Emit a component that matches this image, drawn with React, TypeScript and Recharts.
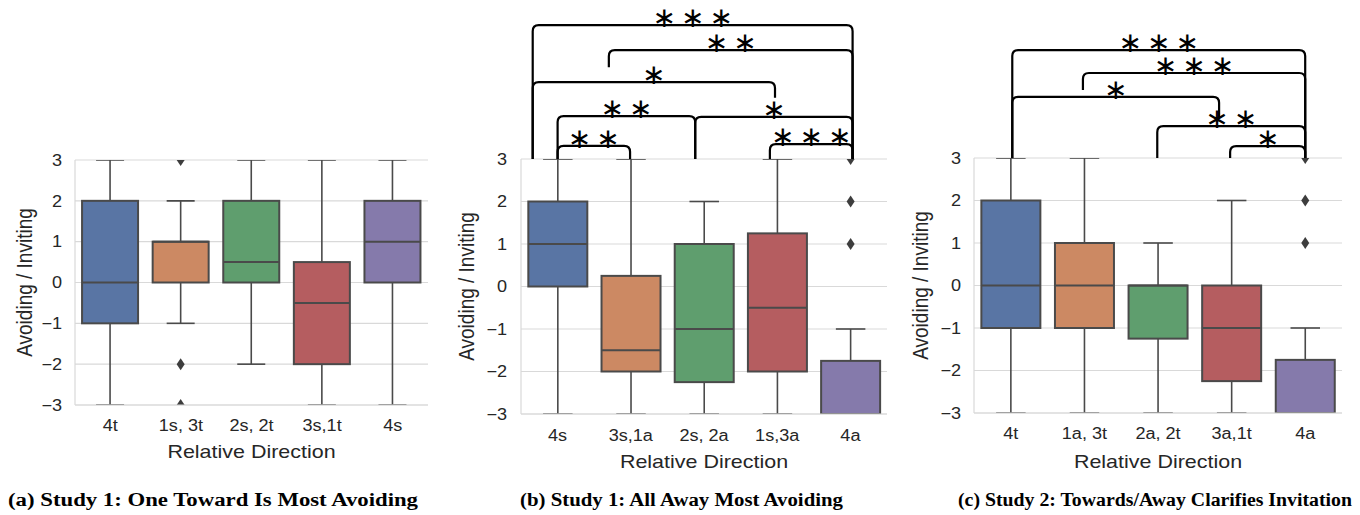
import React from "react";
import { Bar, CartesianGrid, ComposedChart, Label, ReferenceArea, XAxis, YAxis } from "recharts";

// seaborn "deep" palette, desaturated like its boxplot does
const boxColors = ["#5975a4", "#cc8963", "#5f9e6e", "#b55d60", "#857aab"];

// (a) Study 1, toward
const catsA = ["4t", "1s, 3t", "2s, 2t", "3s,1t", "4s"];
const loA = [-3, -1, -2, -3, -3];
const q1A = [-1, 0, 0, -2, 0];
const medA = [0, 1, 0.5, -0.5, 1];
const q3A = [2, 1, 2, 0.5, 2];
const hiA = [3, 2, 3, 3, 3];
const outA = [[], [3, -2, -3], [], [], []];

// (b) Study 1, away
const catsB = ["4s", "3s,1a", "2s, 2a", "1s,3a", "4a"];
const loB = [-3, -3, -3, -3, -3];
const q1B = [0, -2, -2.25, -2, -3];
const medB = [1, -1.5, -1, -0.5, -3];
const q3B = [2, 0.25, 1, 1.25, -1.75];
const hiB = [3, 3, 2, 3, -1];
const outB = [[], [], [], [], [1, 2, 3]];

// (c) Study 2
const catsC = ["4t", "1a, 3t", "2a, 2t", "3a,1t", "4a"];
const loC = [-3, -3, -3, -3, -3];
const q1C = [-1, -1, -1.25, -2.25, -3];
const medC = [0, 0, 0, -1, -3];
const q3C = [2, 1, 0, 0, -1.75];
const hiC = [3, 3, 1, 2, -1];
const outC = [[], [], [], [], [1, 2, 3]];

// significance brackets: category positions (x) and heights in score units
const brFromB = [-0.34, 0.7, -0.34, 0, 1.88, 0, 2.9];
const brToB = [4.03, 4.03, 2.97, 1.88, 4.03, 0.99, 4.03];
const brTopB = [6.15, 5.56, 4.81, 4.01, 3.99, 3.31, 3.35];
const brLeftFootB = [3, 5.16, 3, 3, 3, 3, 3];
const brRightFootB = [3, 3, 4.44, 3, 3, 3, 3];
const brLabelB = ["***", "**", "*", "**", "*", "**", "***"];

const brFromC = [0.02, 0.98, 0.02, 1.99, 2.98];
const brToC = [4.0, 4.0, 2.83, 4.0, 4.0];
const brTopC = [5.54, 5.0, 4.44, 3.75, 3.28];
const brLeftFootC = [3, 4.6, 3, 3, 3];
const brRightFootC = [3, 3, 3.96, 3, 3];
const brLabelC = ["***", "***", "*", "**", "*"];

const yTicks = [-3, -2, -1, 0, 1, 2, 3];
const captions = [
  "(a) Study 1: One Toward Is Most Avoiding",
  "(b) Study 1: All Away Most Avoiding",
  "(c) Study 2: Towards/Away Clarifies Invitation"
];

const FONT = "'Liberation Sans', Arial, sans-serif";
const LINE = "#4a4a4a";
const GRID = "#d9d9d9";
const TEXT = "#262626";
const STRETCH = 1.13; // the original figure is a little wider than tall

type Row = { cat: string; pos: number; lo: number; q1: number; med: number; q3: number; hi: number; out: number[]; color: string };

const makeRows = (cats: string[], lo: number[], q1: number[], med: number[], q3: number[], hi: number[], out: number[][]): Row[] =>
  cats.map((cat, i) => ({ cat, pos: i, lo: lo[i], q1: q1[i], med: med[i], q3: q3[i], hi: hi[i], out: out[i], color: boxColors[i] }));

const makeBrackets = (from: number[], to: number[], top: number[], lf: number[], rf: number[], label: string[]) =>
  from.map((f, i) => ({ from: f, to: to[i], top: top[i], lf: lf[i], rf: rf[i], label: label[i] }));

const BoxShape = (props: any) => {
  const { x, y, width, height, payload } = props;
  const top = Math.min(y, y + height);
  const h = Math.abs(height);
  const unit = h / (payload.hi - payload.lo);
  const py = (v: number) => top + (payload.hi - v) * unit;
  const cx = x + width / 2;
  const cap = width / 4;
  return (
    <g>
      <line x1={cx} x2={cx} y1={py(payload.hi)} y2={py(payload.q3)} stroke={LINE} strokeWidth={1.6} />
      <line x1={cx} x2={cx} y1={py(payload.q1)} y2={py(payload.lo)} stroke={LINE} strokeWidth={1.6} />
      <line x1={cx - cap} x2={cx + cap} y1={py(payload.hi)} y2={py(payload.hi)} stroke={LINE} strokeWidth={1.6} />
      <line x1={cx - cap} x2={cx + cap} y1={py(payload.lo)} y2={py(payload.lo)} stroke={LINE} strokeWidth={1.6} />
      <rect x={x} y={py(payload.q3)} width={width} height={py(payload.q1) - py(payload.q3)} fill={payload.color} stroke={LINE} strokeWidth={2} />
      <line x1={x} x2={x + width} y1={py(payload.med)} y2={py(payload.med)} stroke={LINE} strokeWidth={2} />
      {payload.out.map((v: number, k: number) => (
        <path key={k} d={`M${cx},${py(v) - 6} L${cx + 4},${py(v)} L${cx},${py(v) + 6} L${cx - 4},${py(v)} Z`} fill="#3d3d3d" />
      ))}
    </g>
  );
};

const Bracket = (props: any) => {
  const { x, y, width, height, b } = props;
  const low = Math.min(b.lf, b.rf);
  const unit = height / (b.top - low);
  const xl = x;
  const xr = x + width;
  const yt = y;
  const ylb = yt + (b.top - b.lf) * unit;
  const yrb = yt + (b.top - b.rf) * unit;
  const r = 6;
  const d = `M${xl},${ylb} L${xl},${yt + r} Q${xl},${yt} ${xl + r},${yt} L${xr - r},${yt} Q${xr},${yt} ${xr},${yt + r} L${xr},${yrb}`;
  const ls = 5;
  return (
    <g>
      <path d={d} fill="none" stroke="#000" strokeWidth={2.2} />
      <text
        x={(xl + xr) / 2 + ls / 2}
        y={yt + 2}
        textAnchor="middle"
        fontFamily="'DejaVu Sans', sans-serif"
        fontSize={28}
        letterSpacing={ls}
        fill="#000"
      >
        {b.label.replace(/\*/g, "\u2217")}
      </text>
    </g>
  );
};

const fmtTick = (v: number) => (v < 0 ? `\u2212${Math.abs(v)}` : `${v}`);

const XTick = (props: any) => (
  <g transform={`translate(${props.x},${props.y}) scale(${STRETCH},1)`}>
    <text textAnchor="middle" dy="0.71em" fill={TEXT} fontSize={16} fontFamily={FONT}>
      {props.payload.value}
    </text>
  </g>
);

const YTick = (props: any) => (
  <g transform={`translate(${props.x},${props.y}) scale(${STRETCH},1)`}>
    <text textAnchor="end" dy="0.36em" fill={TEXT} fontSize={16} fontFamily={FONT}>
      {fmtTick(props.payload.value)}
    </text>
  </g>
);

const xTitle = (offset: number) => (lp: any) => {
  const vb = lp.viewBox;
  return (
    <g transform={`translate(${vb.x + vb.width / 2},${vb.y + vb.height - offset}) scale(${STRETCH},1)`}>
      <text textAnchor="middle" fill={TEXT} fontSize={19} fontFamily={FONT}>
        Relative Direction
      </text>
    </g>
  );
};

const yTitle = (cx: number) => (lp: any) => {
  const vb = lp.viewBox;
  return (
    <g transform={`translate(${cx},${vb.y + vb.height / 2}) scale(${STRETCH},1) rotate(-90)`}>
      <text textAnchor="middle" dy="0.36em" fill={TEXT} fontSize={19} fontFamily={FONT}>
        Avoiding / Inviting
      </text>
    </g>
  );
};

type PanelProps = {
  rows: Row[];
  brackets: ReturnType<typeof makeBrackets>;
  left: number;
  width: number;
  height: number;
  top: number;
  plotH: number;
  right: number;
  yAxisWidth: number;
  tickGap: number;
  xTickGap: number;
  yLabelX: number;
  xLabelOffset: number;
};

function Panel(p: PanelProps) {
  const halfBand = (p.width - p.yAxisWidth - p.right) / 10;
  return (
    <div style={{ position: "absolute", left: p.left, top: 0 }}>
      <ComposedChart
        width={p.width}
        height={p.height}
        data={p.rows}
        margin={{ top: p.top, right: p.right, bottom: 0, left: 0 }}
        barCategoryGap="10%"
      >
        <CartesianGrid vertical={false} stroke={GRID} strokeWidth={1.2} />
        <XAxis
          dataKey="cat"
          interval={0}
          tickLine={false}
          tickSize={0}
          tickMargin={p.xTickGap}
          height={p.height - p.top - p.plotH}
          axisLine={{ stroke: GRID, strokeWidth: 1.2 }}
          tick={<XTick />}
        >
          <Label content={xTitle(p.xLabelOffset)} />
        </XAxis>
        {/* numeric twin of the category axis, for placing the brackets between boxes */}
        <XAxis
          xAxisId="br"
          dataKey="pos"
          type="number"
          domain={[0, 4]}
          padding={{ left: halfBand, right: halfBand }}
          allowDataOverflow
          hide
        />
        <YAxis
          domain={[-3, 3]}
          ticks={yTicks}
          allowDataOverflow
          width={p.yAxisWidth}
          tickLine={false}
          tickSize={0}
          tickMargin={p.tickGap}
          axisLine={{ stroke: GRID, strokeWidth: 1.2 }}
          tick={<YTick />}
        >
          <Label content={yTitle(p.yLabelX)} />
        </YAxis>
        <Bar dataKey={(d: Row) => [d.lo, d.hi]} shape={BoxShape} isAnimationActive={false} />
        {p.brackets.map((b, i) => (
          <ReferenceArea
            key={i}
            xAxisId="br"
            x1={b.from}
            x2={b.to}
            y1={Math.min(b.lf, b.rf)}
            y2={b.top}
            ifOverflow="visible"
            shape={(sp: any) => <Bracket {...sp} b={b} />}
          />
        ))}
      </ComposedChart>
    </div>
  );
}

export default function App() {
  const rowsA = makeRows(catsA, loA, q1A, medA, q3A, hiA, outA);
  const rowsB = makeRows(catsB, loB, q1B, medB, q3B, hiB, outB);
  const rowsC = makeRows(catsC, loC, q1C, medC, q3C, hiC, outC);
  const bracketsB = makeBrackets(brFromB, brToB, brTopB, brLeftFootB, brRightFootB, brLabelB);
  const bracketsC = makeBrackets(brFromC, brToC, brTopC, brLeftFootC, brRightFootC, brLabelC);

  return (
    <div style={{ position: "absolute", left: 0, top: 0, width: 1360, height: 515, background: "#fff" }}>
      <Panel rows={rowsA} brackets={[]} left={0} width={440} height={470} top={160} plotH={245} right={12}
        yAxisWidth={75} tickGap={13} xTickGap={15} yLabelX={24} xLabelOffset={12} />
      <Panel rows={rowsB} brackets={bracketsB} left={440} width={460} height={480} top={159} plotH={255} right={13}
        yAxisWidth={81} tickGap={14} xTickGap={16} yLabelX={26} xLabelOffset={12} />
      <Panel rows={rowsC} brackets={bracketsC} left={900} width={460} height={479} top={158} plotH={255} right={18}
        yAxisWidth={74} tickGap={13} xTickGap={15} yLabelX={20} xLabelOffset={11} />
      <svg width={1360} height={515} style={{ position: "absolute", left: 0, top: 0, pointerEvents: "none" }}>
        <text x={8} y={506} textLength={410} lengthAdjust="spacingAndGlyphs" fontFamily="'Liberation Serif', serif" fontWeight="bold" fontSize={18} fill="#000">
          {captions[0]}
        </text>
        <text x={520} y={506} textLength={323} lengthAdjust="spacingAndGlyphs" fontFamily="'Liberation Serif', serif" fontWeight="bold" fontSize={18} fill="#000">
          {captions[1]}
        </text>
        <text x={958} y={506} textLength={394} lengthAdjust="spacingAndGlyphs" fontFamily="'Liberation Serif', serif" fontWeight="bold" fontSize={18} fill="#000">
          {captions[2]}
        </text>
      </svg>
    </div>
  );
}
